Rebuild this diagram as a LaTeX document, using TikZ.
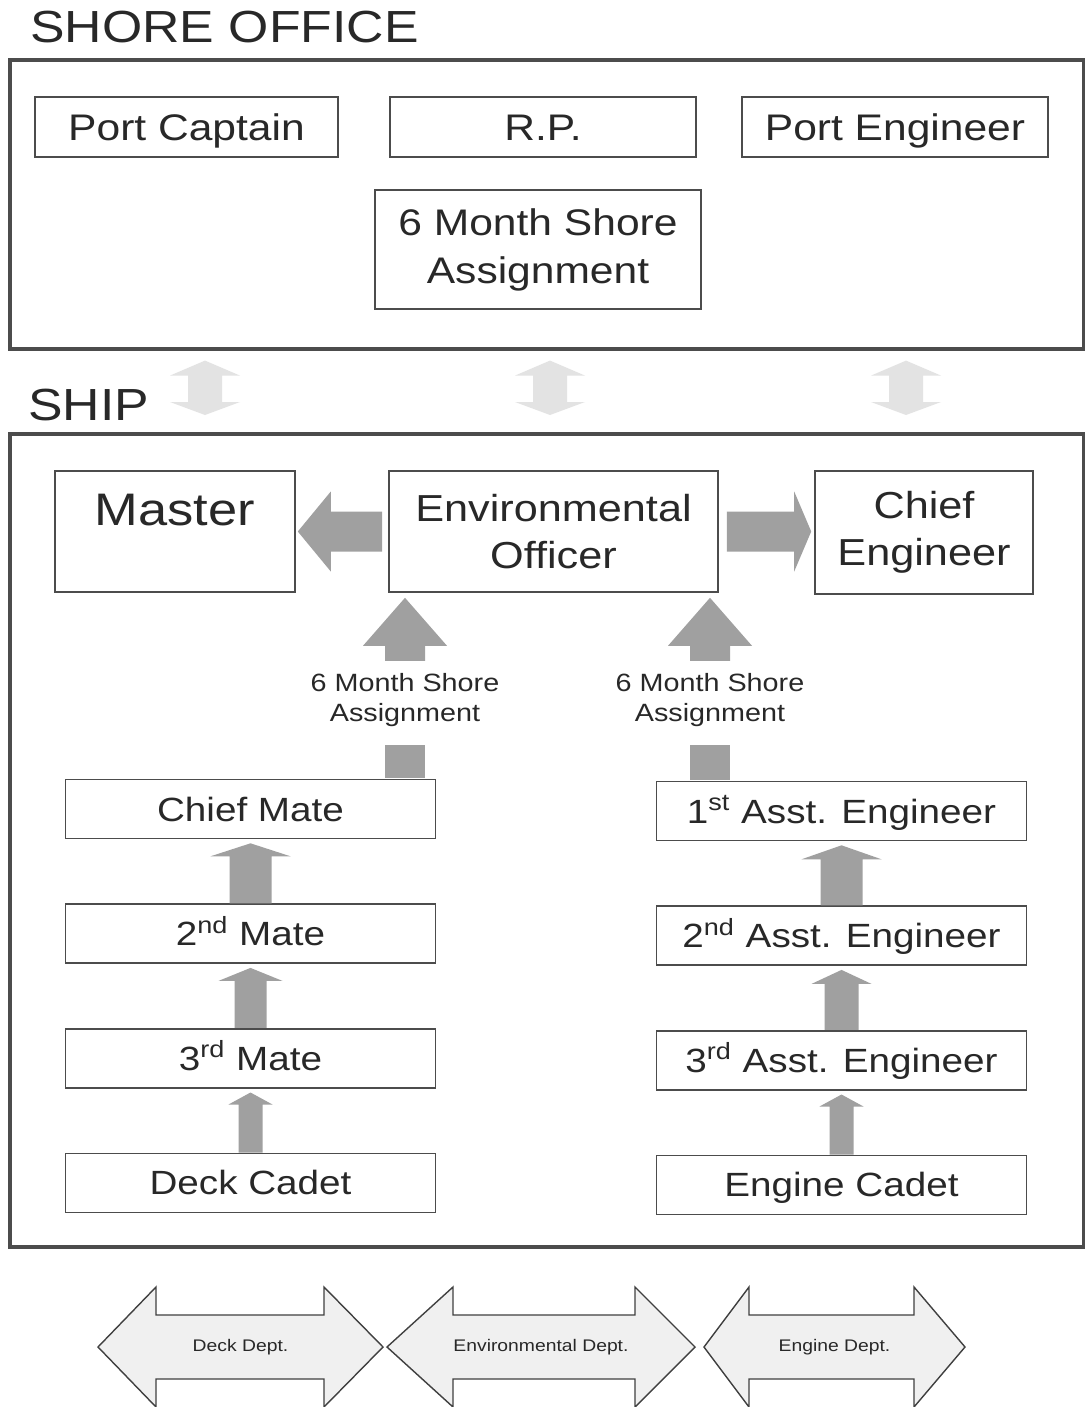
\documentclass[tikz,border=0pt]{standalone}
\usepackage{fontspec}
\setmainfont[FakeStretch=1.15]{Liberation Sans}
\usepackage{xcolor}
\usepackage{tikz}
\usetikzlibrary{positioning,calc}
\definecolor{inkgray}{RGB}{40,40,40}
\definecolor{arrowgray}{RGB}{160,160,160}

\begin{document}
\begin{tikzpicture}[x=0.5pt, y=-0.5pt, node distance=32pt, every node/.style={text=inkgray}]
    \tikzstyle{bigbox}=[draw=black!70, line width=1.8pt, inner sep=0pt]
    \tikzstyle{box}=[draw=black!70, line width=0.8pt, inner sep=0pt, align=center]
    \tikzstyle{title}=[font=\fontsize{22.5}{27}\selectfont, inner sep=0pt]
    \tikzstyle{office}=[box, minimum height=30pt, font=\fontsize{18.5}{24}\selectfont]
    \tikzstyle{officer}=[box, minimum height=60.5pt, font=\fontsize{18.8}{23.5}\selectfont]
    \tikzstyle{rank}=[box, minimum width=185pt, minimum height=29.5pt, text height=12pt, text depth=0pt, font=\fontsize{16.8}{20}\selectfont]
    \tikzstyle{shorelbl}=[align=center, inner xsep=0pt, inner ysep=6pt, font=\fontsize{12.5}{15}\selectfont]
    \tikzstyle{arrfill}=[fill=arrowgray]
    \tikzstyle{faint}=[fill=gray!22]
    \tikzstyle{dept}=[draw=black!75, line width=0.7pt, fill=gray!12]
    \useasboundingbox (0,0) rectangle (1085,1407);
    \fill[white] (0,0) rectangle (1085,1407);

    % shore office
    \node[title, anchor=base west] (shoretitle) at (30,43) {SHORE OFFICE};
    \node[bigbox, anchor=north west, minimum width=537pt, minimum height=144.5pt] (shore) at (8,58) {};
    \node[office, minimum width=151.5pt, text height=13.2pt, text depth=0pt] (portcap) at (186.5,127) {Port Captain};
    \node[office, minimum width=153pt, text height=13.2pt, text depth=0pt] (rp) at (543,127) {R.P.};
    \node[office, minimum width=153pt, text height=13.2pt, text depth=0pt] (porteng) at (895,127) {Port Engineer};
    \node[office, minimum width=163pt, minimum height=59.5pt] (sixmonth) at (538,249.5) {6 Month Shore\\Assignment};

    % ship
    \node[title, anchor=base west] (shiptitle) at (28,420) {SHIP};
    \node[bigbox, anchor=north west, minimum width=537pt, minimum height=406.5pt] (ship) at (8,432) {};
    \node[officer, minimum width=120pt, font=\fontsize{22.8}{27}\selectfont, text height=27pt, text depth=33.5pt, inner ysep=0pt] (master) at (175,531.5) {Master};
    \node[officer, minimum width=164.5pt] (env) at (553.5,531.5) {Environmental\\Officer};
    \node[officer, minimum width=109pt, minimum height=61.5pt] (chief) at (924,532.5) {Chief\\Engineer};

    \node[shorelbl] (lblA) at (405,700) {6 Month Shore\\Assignment};
    \node[shorelbl] (lblB) at (710,700) {6 Month Shore\\Assignment};

    \node[rank] (chiefmate) at (250.5,809) {Chief Mate};
    \node[rank, below=of chiefmate] (mate2) {2\textsuperscript{nd} Mate};
    \node[rank, below=of mate2] (mate3) {3\textsuperscript{rd} Mate};
    \node[rank, below=of mate3] (deckcadet) {Deck Cadet};

    \node[rank] (asst1) at (841.5,811) {1\textsuperscript{st} Asst. Engineer};
    \node[rank, below=of asst1] (asst2) {2\textsuperscript{nd} Asst. Engineer};
    \node[rank, below=of asst2] (asst3) {3\textsuperscript{rd} Asst. Engineer};
    \node[rank, below=of asst3] (enginecadet) {Engine Cadet};

    % shore <-> ship
    \foreach \xx in {205,550,906} {
      \path (shore.south -| \xx,0) coordinate (ta) (ship.north -| \xx,0) coordinate (tb);
      \fill[faint] ($(ta)+(0,10)$) -- ($(ta)+(35,25)$) -- ($(ta)+(17,25)$) -- ($(tb)+(17,-30)$) -- ($(tb)+(35,-30)$) -- ($(tb)+(0,-17)$)
        -- ($(tb)+(-35,-30)$) -- ($(tb)+(-17,-30)$) -- ($(ta)+(-17,25)$) -- ($(ta)+(-35,25)$) -- cycle;
    }

    % environmental officer to master and chief engineer
    \fill[arrfill] ($(env.west)+(-6,-20)$) -- ($(master.east)+(35,-20)$) -- ($(master.east)+(35,-40)$) -- ($(master.east)+(2,0)$)
      -- ($(master.east)+(35,40)$) -- ($(master.east)+(35,20)$) -- ($(env.west)+(-6,20)$) -- cycle;
    \fill[arrfill] ($(env.east)+(8,-20)$) -- ($(env.east -| chief.west)+(-20,-20)$) -- ($(env.east -| chief.west)+(-20,-40)$) -- ($(env.east -| chief.west)+(-3,0)$)
      -- ($(env.east -| chief.west)+(-20,40)$) -- ($(env.east -| chief.west)+(-20,20)$) -- ($(env.east)+(8,20)$) -- cycle;

    % promotion arrows
    \foreach \lo/\up/\gp/\sw/\hw/\hl in {mate2/chiefmate.south/4/21/40/13, mate3/mate2.south/4/16/32/13, deckcadet/mate3.south/4/12/22/12,
        asst2/asst1.south/4/21/40/14, asst3/asst2.south/4/17/30/14, enginecadet/asst3.south/4/12/22/12,
        lblA/env.south -| lblA/5/20/42/48, lblB/env.south -| lblB/5/20/42/48}
      \fill[arrfill] ($(\lo.north)+(-\sw,0)$) -- ($(\lo.north)+(\sw,0)$) -- ($(\up)+(\sw,\gp+\hl)$) -- ($(\up)+(\hw,\gp+\hl)$) -- ($(\up)+(0,\gp)$)
        -- ($(\up)+(-\hw,\gp+\hl)$) -- ($(\up)+(-\sw,\gp+\hl)$) -- cycle;
    \fill[arrfill] ($(chiefmate.north -| lblA)+(-20,-1)$) rectangle ($(lblA.south)+(20,6)$);
    \fill[arrfill] ($(asst1.north -| lblB)+(-20,-1)$) rectangle ($(lblB.south)+(20,6)$);

    % departments
    \foreach \xa/\xb/\xc/\xd/\lab/\nm in {98/156/324/383/Deck Dept./deck, 387/453/635/695/Environmental Dept./envdept, 704/749/914/965/Engine Dept./engdept} {
      \draw[dept] (\xa,1347) -- (\xb,1287) -- (\xb,1315) -- (\xc,1315) -- (\xc,1287) -- (\xd,1347) -- (\xc,1407) -- (\xc,1379) -- (\xb,1379) -- (\xb,1407) -- cycle;
      \node[font=\fontsize{8.4}{10}\selectfont] (\nm) at ({(\xa+\xd)/2},1347) {\lab};
    }
  \end{tikzpicture}
\end{document}
